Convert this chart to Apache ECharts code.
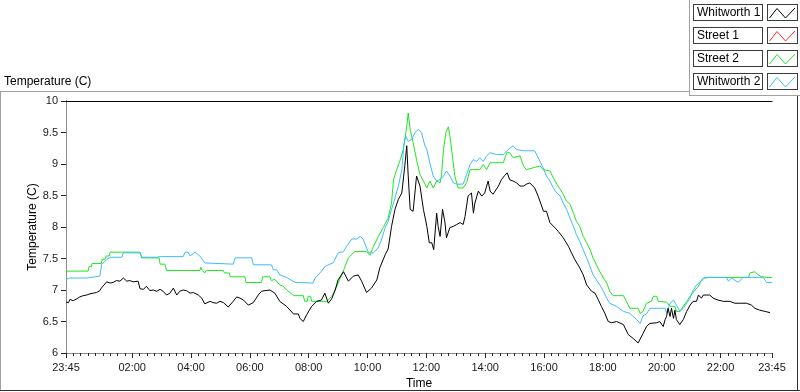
<!DOCTYPE html>
<html>
<head>
<meta charset="utf-8">
<script src="https://cdn.jsdelivr.net/npm/echarts@6/dist/echarts.min.js"></script>
<style>
  html, body { margin: 0; padding: 0; background: #fff; }
  #chart { width: 800px; height: 392px; }
</style>
</head>
<body>
<div id="chart"></div>
<script>
// x values are minutes after 23:45 (one full day)
var seriesNames = ['Whitworth 1', 'Street 1', 'Street 2', 'Whitworth 2'];
var seriesColors = ['#000000', '#ff2a2a', '#1ee61e', '#3dbcfc'];

var whitworth1 = [[0,6.81],[5,6.80],[8,6.85],[15,6.83],[22,6.86],[28,6.89],[35,6.91],[42,6.92],[49,6.94],[56,6.95],[62,6.96],[69,6.99],[72,7.03],[76,7.02],[83,7.13],[90,7.11],[96,7.12],[103,7.15],[110,7.14],[117,7.19],[124,7.14],[130,7.15],[137,7.13],[147,7.14],[151,7.02],[158,7.01],[164,7.06],[171,6.99],[178,7.00],[185,6.98],[192,7.01],[198,6.98],[205,6.92],[212,6.95],[219,7.03],[226,6.92],
  [232,6.98],[239,7.00],[246,6.99],[253,6.95],[260,6.96],[270,6.92],[277,6.87],[283,6.78],[294,6.82],[300,6.80],[307,6.79],[314,6.82],[321,6.80],[331,6.73],[341,6.82],[348,6.89],[355,6.87],[362,6.84],[372,6.76],[382,6.80],[392,6.92],[399,6.98],[406,6.99],[416,7.00],[426,6.95],[436,6.82],[450,6.74],[464,6.62],[474,6.62],
  [477,6.55],[484,6.50],[491,6.61],[501,6.74],[511,6.82],[521,6.84],[528,6.95],[535,6.79],[542,6.86],[549,7.00],[555,7.16],[566,7.29],[576,7.14],[586,7.22],[596,7.24],[603,7.14],[613,6.96],[623,7.03],[634,7.16],[640,7.35],[651,7.56],[657,7.65],[664,8.01],[671,8.28],[678,8.44],[685,8.54],[691,8.97],[695,9.29],[698,8.81],[702,8.28],[708,8.25],[715,8.81],[722,8.65],[729,8.28],[736,8.01],[741,7.75],
  [746,7.75],[750,7.64],[756,8.22],[759,8.01],[763,7.85],[768,8.28],[773,8.07],[776,7.83],[783,7.99],[790,8.01],[797,8.04],[804,8.07],[810,8.04],[814,8.17],[820,8.49],[827,8.54],[831,8.22],[834,8.38],[841,8.57],[848,8.49],[854,8.54],[861,8.73],[865,8.57],[871,8.52],[882,8.65],[888,8.75],[895,8.82],[900,8.86],[905,8.75],[912,8.73],[919,8.70],[926,8.65],[933,8.65],[939,8.68],[946,8.70],[950,8.73],[956,8.62],[963,8.49],
  [967,8.46],[974,8.25],[980,8.25],[987,8.07],[997,7.99],[1004,7.93],[1014,7.83],[1025,7.69],[1031,7.59],[1038,7.48],[1048,7.35],[1055,7.24],[1062,7.08],[1072,6.98],[1079,6.95],[1086,6.84],[1092,6.74],[1099,6.63],[1106,6.50],[1113,6.48],[1123,6.50],[1137,6.45],[1147,6.29],[1157,6.23],[1167,6.16],[1177,6.31],[1184,6.42],[1191,6.47],[1205,6.48],
  [1211,6.50],[1218,6.42],[1222,6.53],[1225,6.58],[1228,6.71],[1232,6.58],[1235,6.71],[1239,6.55],[1242,6.68],[1245,6.53],[1252,6.45],[1259,6.53],[1266,6.66],[1273,6.76],[1279,6.82],[1286,6.82],[1290,6.92],[1293,6.95],[1296,6.87],[1300,6.92],[1307,6.92],[1313,6.92],[1320,6.87],[1330,6.84],[1341,6.82],[1354,6.82],[1364,6.79],[1375,6.79],[1388,6.79],[1398,6.76],[1405,6.71],[1415,6.68],[1426,6.66],[1436,6.64],[1440,6.64]];

var street1 = [];

var street2 = [[0,7.30],[45,7.30],[47,7.37],[52,7.37],[53,7.42],[72,7.42],[74,7.49],[80,7.49],[82,7.54],[88,7.54],[90,7.60],[151,7.60],[154,7.51],[190,7.51],[192,7.41],[202,7.41],[205,7.31],[273,7.31],[275,7.36],[278,7.31],[283,7.27],[286,7.31],[321,7.31],[323,7.27],[333,7.27],[335,7.21],[365,7.21],[367,7.12],[399,7.12],[401,7.21],[416,7.21],[419,7.15],[426,7.17],[436,7.08],[443,7.06],[450,7.00],[457,6.96],[464,6.91],[484,6.91],[487,6.82],[492,6.82],[494,6.90],[499,6.90],[501,6.82],[532,6.82],[535,6.84],[542,6.90],[549,7.00],[555,7.11],[566,7.31],[576,7.51],[589,7.61],[613,7.61],[620,7.55],[627,7.69],[637,7.85],[647,7.99],[657,8.14],[664,8.38],[668,8.75],[674,8.90],[681,9.05],[688,9.23],[695,9.60],[698,9.81],[702,9.55],[708,9.34],[715,9.07],[722,8.83],[729,8.73],[736,8.62],[742,8.73],[749,8.62],[756,8.73],[763,8.70],[766,8.83],[770,9.23],[775,9.50],[780,9.59],[784,9.39],[789,9.07],[793,8.81],[800,8.62],[810,8.62],[817,8.70],[824,8.91],[844,8.91],[851,8.99],[858,8.91],[865,9.02],[892,9.02],[899,9.18],[905,9.18],[912,9.10],[926,9.13],[933,8.97],[939,8.91],[953,8.94],[967,8.97],[973,8.91],[987,8.89],[994,8.78],[1001,8.68],[1008,8.60],[1014,8.52],[1021,8.41],[1028,8.36],[1035,8.22],[1041,8.09],[1048,8.01],[1055,7.85],[1062,7.75],[1069,7.64],[1075,7.51],[1082,7.40],[1089,7.29],[1096,7.19],[1103,7.11],[1109,6.98],[1116,6.91],[1137,6.91],[1143,6.82],[1150,6.71],[1167,6.71],[1171,6.63],[1177,6.66],[1184,6.79],[1194,6.82],[1198,6.90],[1205,6.90],[1208,6.82],[1225,6.81],[1232,6.74],[1242,6.74],[1245,6.66],[1252,6.66],[1259,6.74],[1266,6.82],[1273,6.90],[1283,7.00],[1290,7.06],[1296,7.16],[1303,7.19],[1313,7.20],[1392,7.20],[1395,7.27],[1405,7.29],[1412,7.24],[1419,7.21],[1429,7.20],[1440,7.20]];

var whitworth2 = [[0,7.17],[8,7.19],[42,7.19],[46,7.22],[69,7.22],[73,7.41],[83,7.48],[90,7.52],[114,7.52],[117,7.59],[151,7.59],[154,7.52],[185,7.52],[188,7.54],[192,7.53],[239,7.53],[243,7.60],[249,7.60],[253,7.54],[263,7.60],[266,7.60],[273,7.54],[283,7.43],[287,7.41],[341,7.41],[345,7.51],[379,7.51],[382,7.40],[419,7.40],[423,7.32],[430,7.32],[436,7.24],[450,7.20],[467,7.12],[504,7.11],[508,7.19],[518,7.27],[528,7.37],[535,7.40],[545,7.43],[555,7.59],[566,7.61],[572,7.69],[583,7.81],[593,7.81],[600,7.85],[606,7.81],[617,7.59],[627,7.59],[637,7.67],[644,7.81],[651,7.99],[657,8.09],[664,8.28],[671,8.46],[678,8.65],[685,8.91],[689,9.29],[693,9.44],[698,9.36],[705,9.39],[712,9.50],[719,9.55],[725,9.50],[732,9.29],[736,9.23],[742,9.02],[749,8.81],[756,8.73],[763,8.75],[770,8.81],[776,8.89],[783,8.81],[790,8.70],[797,8.68],[810,8.68],[817,8.83],[824,8.99],[831,9.07],[838,9.04],[844,9.10],[851,9.04],[858,9.13],[865,9.18],[878,9.15],[892,9.15],[899,9.21],[912,9.29],[919,9.23],[933,9.21],[956,9.21],[963,9.10],[973,8.94],[980,8.81],[987,8.73],[994,8.62],[1001,8.54],[1008,8.49],[1014,8.38],[1021,8.28],[1028,8.14],[1035,8.01],[1041,7.88],[1048,7.77],[1055,7.64],[1062,7.51],[1069,7.37],[1075,7.24],[1082,7.16],[1089,7.08],[1096,6.98],[1103,6.87],[1109,6.79],[1123,6.74],[1137,6.66],[1150,6.63],[1164,6.53],[1171,6.47],[1177,6.59],[1184,6.62],[1191,6.71],[1222,6.71],[1225,6.63],[1232,6.79],[1239,6.84],[1245,6.76],[1252,6.66],[1259,6.71],[1266,6.79],[1273,6.87],[1276,6.95],[1286,7.08],[1296,7.14],[1300,7.19],[1307,7.20],[1347,7.20],[1351,7.14],[1358,7.19],[1371,7.12],[1381,7.20],[1422,7.20],[1429,7.12],[1440,7.12]];

// tick labels on the time axis (minutes after 23:45)
var xLabelMinutes = [0, 135, 255, 375, 495, 615, 735, 855, 975, 1095, 1215, 1335, 1440];
var xMinorMinutes = [];
for (var m = 0; m <= 1440; m += 15) xMinorMinutes.push(m);

var FONT = '"Liberation Sans", Arial, sans-serif';

function clockLabel(v) {
  var t = (23 * 60 + 45 + Math.round(v)) % 1440;
  var h = Math.floor(t / 60), mm = t % 60;
  return (h < 10 ? '0' : '') + h + ':' + (mm < 10 ? '0' : '') + mm;
}

function legendIcon(color) {
  var svg = "<svg xmlns='http://www.w3.org/2000/svg' width='31' height='17'>" +
    "<rect x='0.5' y='0.5' width='30' height='16' fill='white' stroke='#3c3c3c'/>" +
    "<polyline points='2.5,14 10,4.5 18.5,14 28,4' fill='none' stroke='" + color + "' stroke-width='1'/></svg>";
  return 'image://data:image/svg+xml;charset=utf-8,' + encodeURIComponent(svg);
}

var chart = echarts.init(document.getElementById('chart'), null, { renderer: 'canvas' });

var dataList = [whitworth1, street1, street2, whitworth2];

var option = {
  animation: false,
  backgroundColor: '#ffffff',
  textStyle: { fontFamily: FONT },
  title: {
    text: 'Temperature (C)',
    left: 2,
    top: 76,
    padding: [0, 2],
    textStyle: { fontFamily: FONT, fontSize: 12, fontWeight: 'normal', color: '#000' }
  },
  legend: {
    orient: 'vertical',
    right: 2,
    top: 4,
    align: 'right',
    itemGap: 6,
    itemWidth: 31,
    itemHeight: 17,
    padding: 0,
    selectedMode: false,
    data: seriesNames.map(function (n, i) { return { name: n, icon: legendIcon(seriesColors[i]) }; }),
    formatter: function (n) { return '{b|' + n + '}'; },
    textStyle: {
      fontFamily: FONT,
      rich: {
        b: {
          fontFamily: FONT, fontSize: 12, color: '#000',
          width: 62, height: 14, lineHeight: 14, align: 'left',
          padding: [1, 3, 0, 3], borderColor: '#3c3c3c', borderWidth: 1, backgroundColor: '#fff'
        }
      }
    }
  },
  grid: { left: 66, right: 28, top: 101, bottom: 39, containLabel: false, outerBoundsMode: 'none' },
  xAxis: [
    {
      type: 'value', min: 0, max: 1440, position: 'bottom',
      axisLine: { show: true, lineStyle: { color: '#8c8c8c', width: 1 } },
      axisTick: { show: true, inside: false, length: 3, customValues: xMinorMinutes, lineStyle: { color: '#222' } },
      axisLabel: { show: false },
      splitLine: { show: false }
    },
    {
      type: 'value', min: 0, max: 1440, position: 'bottom',
      name: 'Time', nameLocation: 'middle', nameGap: 25, nameMoveOverlap: false,
      nameTextStyle: { fontFamily: FONT, fontSize: 12, color: '#000' },
      axisLine: { show: false },
      axisTick: { show: true, inside: false, length: 5, customValues: xLabelMinutes, lineStyle: { color: '#222' } },
      axisLabel: { show: true, customValues: xLabelMinutes, formatter: clockLabel, margin: 9,
        fontFamily: FONT, fontSize: 11, color: '#1a1a1a', hideOverlap: false, showMinLabel: true, showMaxLabel: true },
      splitLine: { show: false }
    },
    {
      type: 'value', min: 0, max: 1440, position: 'top',
      axisLine: { show: true, lineStyle: { color: '#000', width: 1 } },
      axisTick: { show: false }, axisLabel: { show: false }, splitLine: { show: false }
    }
  ],
  yAxis: [
    {
      type: 'value', min: 6, max: 10, interval: 0.5, position: 'left',
      name: 'Temperature (C)', nameLocation: 'middle', nameGap: 27, nameRotate: 90, nameMoveOverlap: false,
      nameTextStyle: { fontFamily: FONT, fontSize: 12, color: '#000' },
      axisLine: { show: true, lineStyle: { color: '#000', width: 1 } },
      axisTick: { show: true, inside: false, length: 5, lineStyle: { color: '#222' } },
      axisLabel: { margin: 8, fontFamily: FONT, fontSize: 11, color: '#1a1a1a' },
      splitLine: { show: false }
    },
    {
      type: 'value', min: 6, max: 10, interval: 0.5, position: 'right',
      axisLine: { show: true, lineStyle: { color: '#8c8c8c', width: 1 } },
      axisTick: { show: false }, axisLabel: { show: false }, splitLine: { show: false }
    }
  ],
  graphic: [
    { type: 'line', shape: { x1: 0, y1: 91.5, x2: 689, y2: 91.5 }, style: { stroke: '#a0a0a0', lineWidth: 1 } },
    { type: 'line', shape: { x1: 689.5, y1: 0, x2: 689.5, y2: 96 }, style: { stroke: '#a0a0a0', lineWidth: 1 } },
    { type: 'line', shape: { x1: 689, y1: 95.5, x2: 800, y2: 95.5 }, style: { stroke: '#a0a0a0', lineWidth: 1 } },
    { type: 'line', shape: { x1: 0.5, y1: 91, x2: 0.5, y2: 391 }, style: { stroke: '#a0a0a0', lineWidth: 1 } },
    { type: 'line', shape: { x1: 0, y1: 390.5, x2: 800, y2: 390.5 }, style: { stroke: '#303030', lineWidth: 1 } },
    { type: 'line', shape: { x1: 797.5, y1: 96, x2: 797.5, y2: 391 }, style: { stroke: '#303030', lineWidth: 1 } }
  ],
  series: seriesNames.map(function (n, i) {
    return {
      name: n,
      type: 'line',
      xAxisIndex: 0,
      yAxisIndex: 0,
      data: dataList[i],
      showSymbol: false,
      symbol: 'none',
      color: seriesColors[i],
      lineStyle: { color: seriesColors[i], width: 1 },
      z: i === 0 ? 5 : 3
    };
  })
};

chart.setOption(option);
</script>
</body>
</html>
